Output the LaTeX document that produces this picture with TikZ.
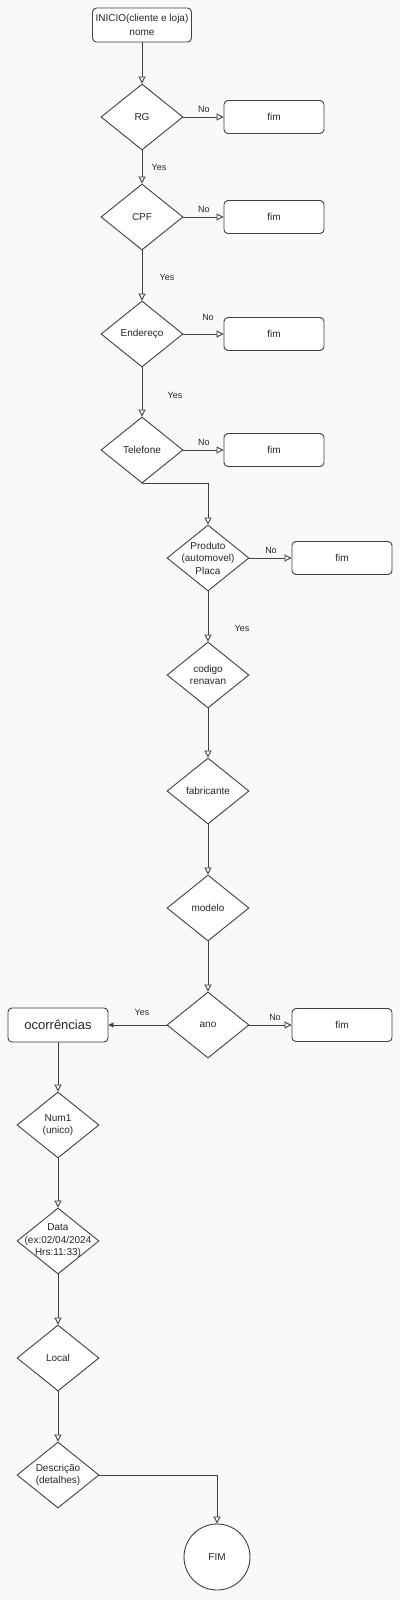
\documentclass[tikz,border=0pt]{standalone}
\usepackage{fontspec}
\setmainfont{Liberation Sans}
\usetikzlibrary{shapes.geometric,arrows.meta}

\begin{document}
\begin{tikzpicture}[x=1pt,y=-1pt,
    every node/.style={font=\fontsize{10}{12.5}\selectfont, text=black!85},
    decision/.style={diamond, draw=black!75, line width=0.9pt, fill=white,
        minimum width=82pt, minimum height=66pt, inner sep=0pt},
    dtext/.style={align=center, inner sep=0pt},
    endbox/.style={rectangle, rounded corners=4pt, draw=black!75, line width=0.9pt,
        fill=white, minimum width=100pt, minimum height=33pt, inner sep=0pt},
    lbl/.style={inner sep=0pt, font=\fontsize{9}{11}\selectfont},
    arr/.style={draw=black!75, line width=0.9pt, -{Triangle[open, length=7pt, width=7pt]}},
    arrfill/.style={draw=black!75, line width=0.9pt, -{Triangle[length=5pt, width=5pt]}}]
    \useasboundingbox (0,0) rectangle (400,1600);
    \fill[gray!5] (0,0) rectangle (400,1600);

    % cliente
    \node[endbox, minimum width=99pt, minimum height=34pt, align=center,
        font=\fontsize{10}{13.5}\selectfont] (inicio) at (142,25) {INICIO(cliente e loja)\\nome};
    \node[decision, label={[dtext]center:RG}] (rg) at (142,117) {};
    \node[endbox] (fim1) at (274,117) {fim};
    \node[decision, label={[dtext]center:CPF}] (cpf) at (142,217) {};
    \node[endbox] (fim2) at (274,217) {fim};
    \node[decision, label={[dtext]center:Endereço}] (endereco) at (142,334) {};
    \node[endbox] (fim3) at (274,334) {fim};
    \node[decision, label={[dtext]center:Telefone}] (telefone) at (142,450) {};
    \node[endbox] (fim4) at (274,450) {fim};

    % produto
    \node[decision, label={[dtext]center:Produto\\(automovel)\\Placa}] (produto) at (208,558) {};
    \node[endbox] (fim5) at (342,558) {fim};
    \node[decision, label={[dtext]center:codigo\\renavan}] (codigo) at (208,675) {};
    \node[decision, label={[dtext]center:fabricante}] (fabricante) at (208,791) {};
    \node[decision, label={[dtext]center:modelo}] (modelo) at (208,908) {};
    \node[decision, label={[dtext]center:ano}] (ano) at (208,1025) {};
    \node[endbox] (fim6) at (342,1025) {fim};

    % ocorrencias
    \node[endbox, minimum height=34pt, font=\fontsize{13}{15}\selectfont] (ocorr) at (58,1025) {ocorrências};
    \node[decision, label={[dtext]center:Num1\\(unico)}] (num) at (58,1125) {};
    \node[decision, label={[dtext]center:Data\\(ex:02/04/2024\\Hrs:11:33)}] (data) at (58,1241) {};
    \node[decision, label={[dtext]center:Local}] (local) at (58,1358) {};
    \node[decision, label={[dtext]center:Descrição\\(detalhes)}] (descricao) at (58,1475) {};
    \node[circle, draw=black!75, line width=0.9pt, fill=white, minimum size=66pt,
        inner sep=0pt] (fim) at (217,1557) {FIM};

    \draw[arr] (inicio) -- (rg);
    \draw[arr] (rg) -- (fim1);
    \draw[arr] (rg) -- (cpf);
    \draw[arr] (cpf) -- (fim2);
    \draw[arr] (cpf) -- (endereco);
    \draw[arr] (endereco) -- (fim3);
    \draw[arr] (endereco) -- (telefone);
    \draw[arr] (telefone) -- (fim4);
    \draw[arr] (telefone.south) -| (produto.north);
    \draw[arr] (produto) -- (fim5);
    \draw[arr] (produto) -- (codigo);
    \draw[arr] (codigo) -- (fabricante);
    \draw[arr] (fabricante) -- (modelo);
    \draw[arr] (modelo) -- (ano);
    \draw[arr] (ano) -- (fim6);
    \draw[arrfill] (ano) -- (ocorr);
    \draw[arr] (ocorr) -- (num);
    \draw[arr] (num) -- (data);
    \draw[arr] (data) -- (local);
    \draw[arr] (local) -- (descricao);
    \draw[arr] (descricao.east) -| (fim.north);

    \node[lbl] (no1) at (204,109) {No};
    \node[lbl] (yes1) at (159,167) {Yes};
    \node[lbl] (no2) at (204,209) {No};
    \node[lbl] (yes2) at (167,277) {Yes};
    \node[lbl] (no3) at (208,317) {No};
    \node[lbl] (yes3) at (175,395) {Yes};
    \node[lbl] (no4) at (204,442) {No};
    \node[lbl] (no5) at (271,550) {No};
    \node[lbl] (yes5) at (242,628) {Yes};
    \node[lbl] (yes6) at (142,1012) {Yes};
    \node[lbl] (no6) at (275,1017) {No};
\end{tikzpicture}
\end{document}
